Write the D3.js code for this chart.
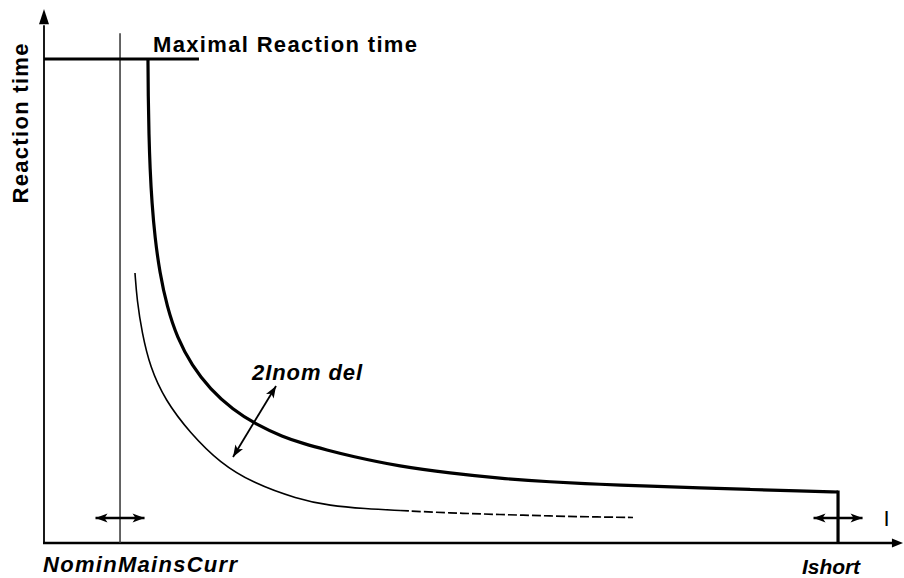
<!DOCTYPE html>
<html>
<head>
<meta charset="utf-8">
<script src="https://cdn.jsdelivr.net/npm/d3@7"></script>
<style>
  html, body { margin: 0; padding: 0; background: #fff; }
  svg { display: block; }
  text { font-family: "Liberation Sans", Arial, sans-serif; fill: #000; }
</style>
</head>
<body>
<svg id="chart" width="904" height="578"></svg>
<script>
// Inverse-time trip characteristic (current vs. reaction time), in % of the axis span.

// Upper (delayed) characteristic: current, reaction time
const mainCurrent = [12.09, 12.12, 12.20, 12.33, 12.55, 12.90, 13.45, 14.30, 15.50, 17.20, 19.30,
  21.98, 24.60, 27.79, 30.20, 32.91, 35.58, 41.40, 47.21, 53.02, 58.84, 64.65, 70.47, 76.28,
  82.09, 87.91, 92.33];
const mainTime = [91.15, 84.00, 77.00, 70.50, 64.00, 57.50, 51.00, 44.50, 38.60, 33.40, 29.00,
  25.05, 22.40, 19.96, 18.70, 17.51, 16.40, 14.40, 13.15, 12.15, 11.50, 11.05, 10.70, 10.38,
  10.08, 9.79, 9.60];

// Lower characteristic, drawn solid then broken towards high currents
const lowCurrent = [10.58, 10.81, 11.40, 12.33, 14.07, 16.98, 20.47, 24.30, 29.42, 33.26, 37.33, 41.40];
const lowTime = [50.85, 45.76, 39.55, 33.15, 26.93, 20.72, 15.07, 11.30, 8.30, 7.00, 6.45, 6.12];
const tailCurrent = [41.40, 47.21, 53.02, 58.84, 64.65, 68.49];
const tailTime = [6.12, 5.65, 5.37, 5.08, 4.90, 4.80];

// Reference levels
const maxReactionTime = 91.15;
const maxLineEnd = 18.02;
const nominalCurrent = 8.84;
const nominalLineTop = 96.0;
const shortCurrent = 92.33;
const shiftArrowLevel = 4.71;
const shiftArrowHalf = 2.85;
const delayArrow = [[21.98, 16.20], [26.98, 29.57]];

// Labels
const yTitle = "Reaction time";
const maxLabel = "Maximal Reaction time";
const nominalLabel = "NominMainsCurr";
const shortLabel = "Ishort";
const delayLabel = "2Inom del";
const currentLabel = "I";

const svg = d3.select("#chart");
const x = d3.scaleLinear().domain([0, 100]).range([44, 904]);
const y = d3.scaleLinear().domain([0, 100]).range([543, 12]);

// Arrowhead markers
const defs = svg.append("defs");
defs.append("marker")
  .attr("id", "head").attr("viewBox", "0 0 12 10")
  .attr("refX", 12).attr("refY", 5)
  .attr("markerUnits", "userSpaceOnUse")
  .attr("markerWidth", 13).attr("markerHeight", 10)
  .attr("orient", "auto-start-reverse")
  .append("path").attr("d", "M0,0.5 L12,5 L0,9.5 L3,5 Z").attr("fill", "#000");

// Axes with arrow tips
const axisY = d3.axisLeft(y).tickValues([]).tickSizeOuter(0);
const axisX = d3.axisBottom(x).tickValues([]).tickSizeOuter(0);
svg.append("g").attr("transform", `translate(${x(0)},0)`).call(axisY)
  .select(".domain").attr("stroke", "#000").attr("stroke-width", 1.8)
  .attr("d", `M0,${y(0)}V${y(97.5)}`);
svg.append("g").attr("transform", `translate(0,${y(0)})`).call(axisX)
  .select(".domain").attr("stroke", "#000").attr("stroke-width", 2.6)
  .attr("d", `M${x(0) - 1}, 0H${x(98.8)}`);
svg.append("path")
  .attr("d", `M${x(0)},${y(100) - 3} L${x(0) + 5},${y(97.7)} L${x(0) - 5},${y(97.7)} Z`)
  .attr("fill", "#000");
svg.append("path")
  .attr("d", `M${x(100) - 1},${y(0)} L${x(98.6)},${y(0) - 4.5} L${x(98.6)},${y(0) + 4.5} Z`)
  .attr("fill", "#000");

// Nominal mains current marker line
svg.append("line")
  .attr("x1", x(nominalCurrent)).attr("x2", x(nominalCurrent))
  .attr("y1", y(0)).attr("y2", y(nominalLineTop))
  .attr("stroke", "#333").attr("stroke-width", 1.5);

// Maximal reaction time level
svg.append("line")
  .attr("x1", x(0)).attr("x2", x(maxLineEnd))
  .attr("y1", y(maxReactionTime)).attr("y2", y(maxReactionTime))
  .attr("stroke", "#000").attr("stroke-width", 3);

const line = d3.line().curve(d3.curveBasis);

// Upper characteristic
svg.append("path")
  .datum(mainCurrent.map((c, i) => [x(c), y(mainTime[i])]))
  .attr("d", line).attr("fill", "none")
  .attr("stroke", "#000").attr("stroke-width", 3.2);

// Short-circuit current drop
svg.append("line")
  .attr("x1", x(shortCurrent)).attr("x2", x(shortCurrent))
  .attr("y1", y(mainTime[mainTime.length - 1]) - 1.5).attr("y2", y(0))
  .attr("stroke", "#000").attr("stroke-width", 3.2);

// Lower characteristic
svg.append("path")
  .datum(lowCurrent.map((c, i) => [x(c), y(lowTime[i])]))
  .attr("d", line).attr("fill", "none")
  .attr("stroke", "#000").attr("stroke-width", 1.6);
svg.append("path")
  .datum(tailCurrent.map((c, i) => [x(c), y(tailTime[i])]))
  .attr("d", line).attr("fill", "none")
  .attr("stroke", "#000").attr("stroke-width", 1.7)
  .attr("stroke-dasharray", "9,3");

// Double-headed arrows
function doubleArrow(p0, p1, w) {
  svg.append("line")
    .attr("x1", x(p0[0])).attr("y1", y(p0[1]))
    .attr("x2", x(p1[0])).attr("y2", y(p1[1]))
    .attr("stroke", "#000").attr("stroke-width", w)
    .attr("marker-start", "url(#head)").attr("marker-end", "url(#head)");
}
doubleArrow([nominalCurrent - shiftArrowHalf, shiftArrowLevel], [nominalCurrent + shiftArrowHalf, shiftArrowLevel], 2.4);
doubleArrow([shortCurrent - shiftArrowHalf, shiftArrowLevel], [shortCurrent + shiftArrowHalf, shiftArrowLevel], 2.4);
doubleArrow(delayArrow[0], delayArrow[1], 1.8);

// Text
svg.append("text")
  .attr("x", x(maxLineEnd) - 46).attr("y", y(maxReactionTime) - 7)
  .attr("font-size", 22).attr("font-weight", "bold")
  .attr("textLength", 264).attr("lengthAdjust", "spacing")
  .text(maxLabel);

svg.append("text")
  .attr("transform", `translate(${x(0) - 16},${y(79)}) rotate(-90)`)
  .attr("text-anchor", "middle")
  .attr("font-size", 22).attr("font-weight", "bold")
  .attr("textLength", 160).attr("lengthAdjust", "spacing")
  .text(yTitle);

svg.append("text")
  .attr("x", x(0) - 1).attr("y", y(0) + 29)
  .attr("font-size", 22).attr("font-weight", "bold").attr("font-style", "italic")
  .attr("textLength", 194).attr("lengthAdjust", "spacing")
  .text(nominalLabel);

svg.append("text")
  .attr("x", x(shortCurrent) - 36).attr("y", y(0) + 31)
  .attr("font-size", 21).attr("font-weight", "bold").attr("font-style", "italic")
  .attr("textLength", 58).attr("lengthAdjust", "spacing")
  .text(shortLabel);

svg.append("text")
  .attr("x", x(delayArrow[1][0]) - 24).attr("y", y(delayArrow[1][1]) - 6)
  .attr("font-size", 22).attr("font-weight", "bold").attr("font-style", "italic")
  .attr("textLength", 110).attr("lengthAdjust", "spacing")
  .text(delayLabel);

svg.append("text")
  .attr("x", x(shortCurrent + shiftArrowHalf) + 21).attr("y", y(shiftArrowLevel) + 8)
  .attr("font-size", 22)
  .text(currentLabel);
</script>
</body>
</html>
